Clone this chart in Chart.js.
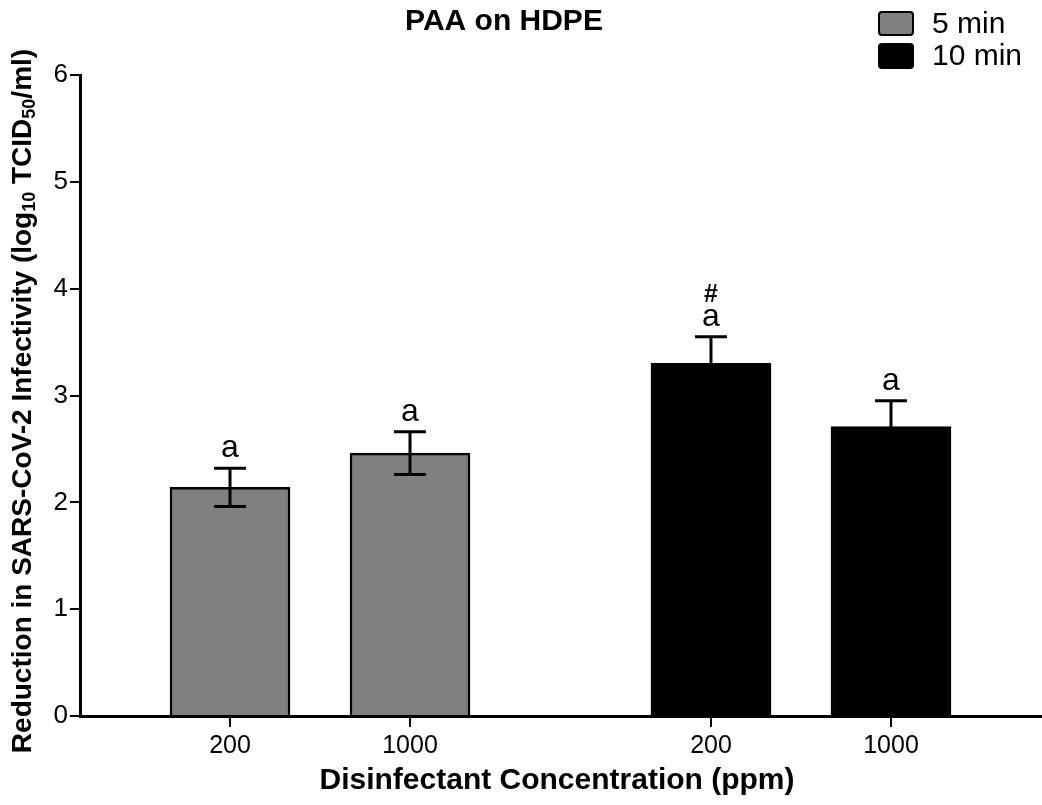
<!DOCTYPE html>
<html>
<head>
<meta charset="utf-8">
<script src="https://cdn.jsdelivr.net/npm/chart.js@4.4.1/dist/chart.umd.min.js"></script>
<style>
  html, body { margin: 0; padding: 0; background: #fff; }
  #wrap { width: 1042px; height: 805px; }
</style>
</head>
<body>
<div id="wrap"><canvas id="myChart" width="1042" height="805"></canvas></div>
<script>
// data
const concentrations = ["200", "1000"];
const seriesNames = ["5 min", "10 min"];
const mean5 = [2.14, 2.46];
const mean10 = [3.30, 2.71];
const sd5 = [0.18, 0.20];
const sd10 = [0.25, 0.24];
const sig5 = [["a"], ["a"]];
const sig10 = [["a", "#"], ["a"]];
const yTicks = [0, 1, 2, 3, 4, 5, 6];

const FONT = "'Liberation Sans', Arial, sans-serif";
const groupStep = 2.672; // distance between the two time groups (in category units)

const posOf = (g, i) => 1 + g * groupStep + i;

const tickPositions = [];
const tickLabels = {};
[0, 1].forEach(g => concentrations.forEach((c, i) => {
  const p = posOf(g, i);
  tickPositions.push(p);
  tickLabels[p.toFixed(3)] = c;
}));

const makeSet = (g, means, sds, sigs, color) => ({
  label: seriesNames[g],
  data: means.map((v, i) => ({ x: posOf(g, i), y: v })),
  sds: sds,
  sigs: sigs,
  backgroundColor: color,
  borderColor: "#000",
  borderWidth: 2.5,
  borderSkipped: "bottom",
  barThickness: 120,
  grouped: false,
});

const extras = {
  id: "extras",
  afterDatasetsDraw(chart) {
    const ctx = chart.ctx;
    const y = chart.scales.y;
    ctx.save();
    chart.data.datasets.forEach((ds, di) => {
      const meta = chart.getDatasetMeta(di);
      meta.data.forEach((bar, i) => {
        const v = ds.data[i].y;
        const top = y.getPixelForValue(v + ds.sds[i]);
        const bot = y.getPixelForValue(v - ds.sds[i]);
        const cx = bar.x;
        ctx.strokeStyle = "#000";
        ctx.lineWidth = 3;
        ctx.beginPath();
        ctx.moveTo(cx, top); ctx.lineTo(cx, bot);
        ctx.moveTo(cx - 16, top); ctx.lineTo(cx + 16, top);
        ctx.moveTo(cx - 16, bot); ctx.lineTo(cx + 16, bot);
        ctx.stroke();
        // significance letters
        ctx.fillStyle = "#000";
        ctx.textAlign = "center";
        ctx.textBaseline = "alphabetic";
        let base = top - 11;
        ds.sigs[i].forEach(s => {
          if (s === "#") {
            ctx.font = "bold 25px " + FONT;
            ctx.fillText(s, cx, base + 2);
            base -= 24;
          } else {
            ctx.font = "32px " + FONT;
            ctx.fillText(s, cx, base);
            base -= 26;
          }
        });
      });
    });
    ctx.restore();
  },
  afterDraw(chart) {
    const ctx = chart.ctx;
    ctx.save();
    ctx.fillStyle = "#000";
    // title
    ctx.font = "bold 30px " + FONT;
    ctx.textAlign = "center";
    ctx.textBaseline = "middle";
    ctx.fillText("PAA on HDPE", 504, 22);
    // x title
    ctx.fillText("Disinfectant Concentration (ppm)", 557, 781);

    // legend
    const colors = ["#808080", "#000000"];
    const rows = [{ y: 12, h: 23 }, { y: 44, h: 24 }];
    seriesNames.forEach((n, k) => {
      const r = rows[k];
      ctx.beginPath();
      ctx.roundRect(879, r.y, 34, r.h, 3);
      ctx.fillStyle = colors[k];
      ctx.fill();
      ctx.lineWidth = 2;
      ctx.strokeStyle = "#000";
      ctx.stroke();
      ctx.fillStyle = "#000";
      ctx.font = "30px " + FONT;
      ctx.textAlign = "left";
      ctx.textBaseline = "middle";
      ctx.fillText(n, 932, r.y + r.h / 2 + 1);
    });

    // rotated y title with subscripts
    const parts = [
      { t: "Reduction in SARS-CoV-2 Infectivity (log", sub: false },
      { t: "10", sub: true },
      { t: " TCID", sub: false },
      { t: "50", sub: true },
      { t: "/ml)", sub: false },
    ];
    const big = "bold 28px " + FONT, small = "bold 18px " + FONT;
    let total = 0;
    parts.forEach(p => { ctx.font = p.sub ? small : big; total += ctx.measureText(p.t).width; });
    ctx.translate(23, 401);
    ctx.rotate(-Math.PI / 2);
    ctx.textAlign = "left";
    ctx.textBaseline = "middle";
    let xx = -total / 2;
    parts.forEach(p => {
      ctx.font = p.sub ? small : big;
      ctx.fillText(p.t, xx, p.sub ? 7 : 0);
      xx += ctx.measureText(p.t).width;
    });
    ctx.restore();
  }
};

new Chart(document.getElementById("myChart"), {
  type: "bar",
  data: {
    datasets: [
      makeSet(0, mean5, sd5, sig5, "#808080"),
      makeSet(1, mean10, sd10, sig10, "#000000"),
    ],
  },
  options: {
    responsive: false,
    animation: false,
    devicePixelRatio: 1,
    layout: { padding: { top: 75, left: 0, right: 0, bottom: 0 } },
    plugins: { legend: { display: false }, tooltip: { enabled: false }, title: { display: false } },
    scales: {
      x: {
        type: "linear",
        min: 1 - 150 / 180,
        max: posOf(1, 1) + 151 / 180,
        offset: false,
        grid: { display: true, offset: false, drawOnChartArea: false, drawTicks: true, tickLength: 11, color: "#000", lineWidth: 2 },
        border: { display: true, color: "#000", width: 3 },
        afterBuildTicks: (s) => { s.ticks = tickPositions.map(v => ({ value: v })); },
        afterFit: (s) => { s.height = 89; },
        ticks: {
          autoSkip: false,
          maxRotation: 0,
          padding: 4,
          color: "#000",
          font: { family: FONT, size: 25 },
          callback: (v) => tickLabels[Number(v).toFixed(3)] || "",
        },
      },
      y: {
        min: 0,
        max: 6,
        grid: { display: true, drawOnChartArea: false, drawTicks: true, tickLength: 10, color: "#000", lineWidth: 2 },
        border: { display: true, color: "#000", width: 3 },
        afterBuildTicks: (s) => { s.ticks = yTicks.map(v => ({ value: v })); },
        afterFit: (s) => { s.width = 80; },
        ticks: {
          padding: 2,
          color: "#000",
          font: { family: FONT, size: 26 },
        },
      },
    },
  },
  plugins: [extras],
});
</script>
</body>
</html>
